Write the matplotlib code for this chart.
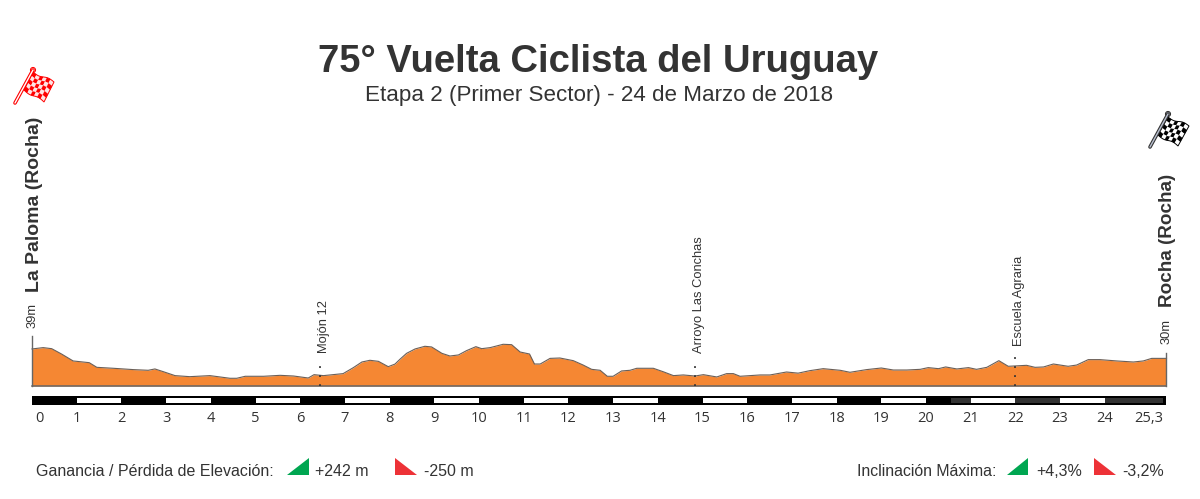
import matplotlib
matplotlib.use("Agg")
import matplotlib.pyplot as plt
from matplotlib.patches import Polygon, Circle
import numpy as np

plt.rcParams["font.family"] = ["Liberation Sans", "DejaVu Sans"]

km = [0, .25, .44, .66, .92, 1.28, 1.45, 1.82, 2.27, 2.60, 2.75, 2.94, 3.2, 3.53, 3.98,
      4.43, 4.58, 4.77, 5.18, 5.55, 5.85, 6.18, 6.31, 6.52, 6.96, 7.19, 7.38, 7.56, 7.75,
      7.97, 8.12, 8.23, 8.38, 8.57, 8.79, 8.94, 9.17, 9.35, 9.54, 9.72, 9.93, 10.06, 10.25,
      10.54, 10.73, 10.92, 11.13, 11.24, 11.37, 11.59, 11.81, 12.11, 12.33, 12.52, 12.71,
      12.87, 13.0, 13.19, 13.38, 13.53, 13.9, 14.12, 14.35, 14.57, 14.83, 15.02, 15.32,
      15.54, 15.69, 15.84, 16.29, 16.51, 16.88, 17.14, 17.4, 17.7, 18.08, 18.3, 18.67, 19.0,
      19.27, 19.57, 19.87, 20.05, 20.28, 20.44, 20.69, 20.95, 21.13, 21.36, 21.63, 21.84,
      22.25, 22.44, 22.63, 22.85, 23.18, 23.37, 23.63, 23.89, 24.27, 24.64, 24.86, 25.05, 25.38]
elev = [38.9, 40.3, 39.2, 33.6, 26.3, 24.5, 19.6, 18.6, 17.2, 16.5, 17.9, 15, 10.9, 9.8, 10.9,
        8.1, 8.1, 10.2, 10.2, 11.2, 10.5, 8.4, 11.9, 10.9, 13, 19.3, 25.2, 27, 25.9,
        20.3, 23, 28, 34.3, 38.9, 41.7, 41, 34.3, 31.5, 32.6, 37.1, 41.3, 39.2, 40.3,
        43.8, 43.4, 35.7, 33.6, 23.1, 23.1, 29, 29.4, 26.6, 22, 17.5, 16.5,
        10.2, 10.2, 15.8, 16.5, 18.6, 18.6, 15, 10.9, 11.6, 10.5, 11.9, 9.5,
        13, 13, 10.2, 11.6, 11.6, 14.7, 13.5, 16.1, 18.2, 16.5, 14.4, 17.2, 18.9,
        16.8, 16.8, 17.5, 19.3, 18.2, 20, 17.9, 19.3, 17.5, 19.6, 26.6, 20.7,
        21.7, 19.6, 20, 23.1, 20.7, 22, 27.7, 27.7, 26.3, 25.2, 26.3, 29, 29]

tick_labels = [str(i) for i in range(25)] + ["25,3"]
tick_pos = [0.16] + list(range(1, 25)) + [24.99]

white_start = [1, 3, 5, 7, 9, 11, 13, 15, 17, 19, 21, 23]
dark_start = [20.55, 22, 24]
dark_end = [21, 23, 25.3]

places = ["Mojón 12", "Arroyo Las Conchas", "Escuela Agraria"]
place_km = [6.45, 14.83, 22.0]
place_top = [23, 23, 37]
label_base = [34.5, 34.5, 42.5]

TXT = "#333333"
GREEN = "#00a651"
RED = "#ed3237"
RED_FLAG = "#ff0000"

# km / metre axes over the whole figure, 0 km at px 32 and 0 m at px 386
fig = plt.figure(figsize=(12, 4.99), dpi=100)
ax = fig.add_axes([0, 0, 1, 1])
ax.set_xlim(-32 / 44.7, 1168 / 44.7)
ax.set_ylim((386 - 499) * 1.05, 386 * 1.05)
ax.axis("off")

ax.fill_between(km, elev, 0, color="#f58733", lw=0)
ax.plot(km, elev, color="#6b5f57", lw=0.8)
ax.plot([0, 25.38], [0, 0], color="#666666", lw=1.1)
ax.plot([0, 0], [0, 53], color="#666666", lw=1)
ax.plot([25.38, 25.38], [0, 35], color="#666666", lw=1)

for k, top in zip(place_km, place_top):
    ax.plot([k, k], [0, top], color="#333333", lw=1.3, ls=(0, (1, 4)))

# km bar
ax.fill_between([0, 25.38], -20, -10.5, color="black", lw=0)
for a, b in zip(dark_start, dark_end):
    ax.fill_between([a, b], -18, -13, color="#333333", lw=0)
for s in white_start:
    ax.fill_between([s, s + 1], -18, -13, color="white", lw=0)

for p, lab in zip(tick_pos, tick_labels):
    ax.text(p, -34.4, lab, ha="center", va="center", fontsize=10.5, color=TXT, family="Open Sans")

for k, base, name in zip(place_km, label_base, places):
    ax.text(k + 0.09, base, name, rotation=90, ha="center", va="bottom", fontsize=9.3, color=TXT)

# pixel overlay for the texts and icons
ov = fig.add_axes([0, 0, 1, 1])
ov.set_xlim(0, 1200)
ov.set_ylim(499, 0)
ov.axis("off")
ov.patch.set_alpha(0)

ov.text(598, 62, "75° Vuelta Ciclista del Uruguay", ha="center", va="center",
        fontsize=27.5, fontweight="bold", color=TXT)
ov.text(599, 95, "Etapa 2 (Primer Sector) - 24 de Marzo de 2018", ha="center", va="center",
        fontsize=16.1, color=TXT)
ov.text(35, 204, "La Paloma (Rocha)", rotation=90, ha="center", va="center",
        fontsize=14, fontweight="bold", color=TXT)
ov.text(1168, 240.5, "Rocha (Rocha)", rotation=90, ha="center", va="center",
        fontsize=13.6, fontweight="bold", color=TXT)
ov.text(33, 315, "39m", rotation=90, ha="center", va="center", fontsize=9.3, color=TXT)
ov.text(1167, 331, "30m", rotation=90, ha="center", va="center", fontsize=9.3, color=TXT)


def tri(x0, x1, y0, y1, up):
    if up:
        pts = [(x0, y1), (x1, y1), (x1, y0)]
    else:
        pts = [(x0, y0), (x0, y1), (x1, y1)]
    ov.add_patch(Polygon(pts, color=GREEN if up else RED, lw=0))


BASE = 475.5
ov.text(36, BASE, "Ganancia / Pérdida de Elevación:", va="baseline", fontsize=11.55, color=TXT)
tri(287, 309, 458, 475, True)
ov.text(315, BASE, "+242 m", va="baseline", fontsize=11.55, color=TXT)
tri(395, 417, 458, 475, False)
ov.text(424, BASE, "-250 m", va="baseline", fontsize=11.55, color=TXT)
ov.text(857, BASE, "Inclinación Máxima:", va="baseline", fontsize=11.45, color=TXT)
tri(1007, 1028, 458, 475, True)
ov.text(1036, BASE, "+4,3%", va="baseline", fontsize=11.55, color=TXT)
tri(1094, 1116, 458, 475, False)
ov.text(1122, BASE, "-3,2%", va="baseline", fontsize=11.55, color=TXT)


def flag(pole_top, pole_bot, tl, tr, br, bl, color, pole_color):
    tl, tr, br, bl = map(np.array, (tl, tr, br, bl))
    nx, ny = 6, 5
    is_red = color == RED_FLAG

    def pt(u, v):
        p = (1 - u) * (1 - v) * tl + u * (1 - v) * tr + u * v * br + (1 - u) * v * bl
        return p + np.array([0, 1.2 * np.sin(u * 2 * np.pi)])

    xs = [pole_top[0], pole_bot[0]]
    ys = [pole_top[1], pole_bot[1]]
    ov.plot(xs, ys, color=pole_color, lw=2.6, solid_capstyle="round")
    ov.plot(xs, ys, color="white" if is_red else "#b8bfd0", lw=1.0, solid_capstyle="round")
    ov.add_patch(Circle(pole_top, 2.5, fc="white" if is_red else "#c5cbdc", ec=pole_color, lw=0.8))
    for i in range(nx):
        for j in range(ny):
            c = color if (i + j) % 2 == 0 else ("#ffe4e4" if is_red else "white")
            q = [pt(i / nx, j / ny), pt((i + 1) / nx, j / ny),
                 pt((i + 1) / nx, (j + 1) / ny), pt(i / nx, (j + 1) / ny)]
            ov.add_patch(Polygon(q, fc=c, ec=c, lw=0.1))
    us = np.linspace(0, 1, 13)
    edge = [pt(u, 0) for u in us] + [pt(1, 1)] + [pt(u, 1) for u in us[::-1]] + [pt(0, 0)]
    ov.add_patch(Polygon(edge, fill=False, ec=color, lw=0.7))


flag((33, 70), (15, 103), (33, 72), (54, 82), (44, 102), (24, 90), RED_FLAG, RED_FLAG)
flag((1168, 114), (1150, 147), (1168, 117), (1189, 126), (1178, 146), (1158, 135), "#000000", "#333333")

fig.savefig("out.png", dpi=100)
